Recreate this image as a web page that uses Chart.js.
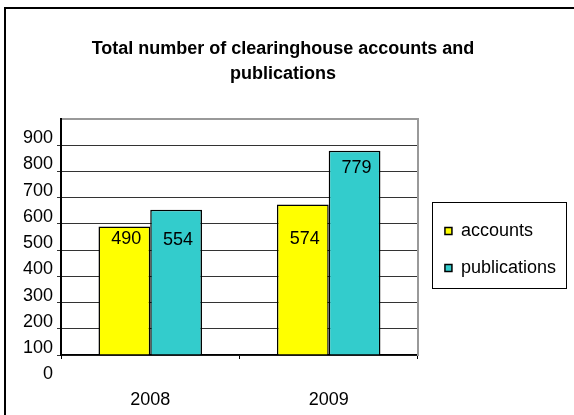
<!DOCTYPE html>
<html lang="en">
<head>
    <meta charset="UTF-8">
    <title>Total number of clearinghouse accounts and publications</title>
    <style>
        html, body { margin: 0; padding: 0; background: #fff; overflow: hidden; }
        .marco { position: absolute; left: 4px; top: 7px; width: 600px; height: 450px; border: 2px solid #000; }
        .caja { position: absolute; left: 0; top: 0; width: 574px; height: 415px; }
    </style>
    <script src="https://cdn.jsdelivr.net/npm/chart.js@4/dist/chart.umd.min.js"></script>
</head>
<body>
    <div class="marco"></div>
    <div class="caja"><canvas id="grafica" width="574" height="415"></canvas></div>
    <script>
        const years = ['2008', '2009'];
        const accounts = [490, 574];
        const publications = [554, 779];
        const seriesNames = ['accounts', 'publications'];
        const titleLines = ['Total number of clearinghouse accounts and', 'publications'];

        // how far below the top of each bar its value label sits (px), per series
        const labelDrop = [[12, 35], [30, 17]];

        Chart.defaults.font.family = "'Liberation Sans', Arial, sans-serif";
        Chart.defaults.font.size = 18;
        Chart.defaults.color = '#000';

        // value labels inside the bars, the extra "0" under the axis, and the legend frame
        const rotulos = {
            id: 'rotulos',
            afterDraw(chart) {
                const ctx = chart.ctx;
                const yScale = chart.scales.y;
                ctx.save();
                ctx.fillStyle = '#000';
                ctx.font = "18px 'Liberation Sans', Arial, sans-serif";
                ctx.textAlign = 'center';
                ctx.textBaseline = 'middle';
                chart.data.datasets.forEach((ds, i) => {
                    chart.getDatasetMeta(i).data.forEach((bar, j) => {
                        ctx.fillText(String(ds.data[j]), bar.x + 2, bar.y + labelDrop[i][j]);
                    });
                });

                ctx.textAlign = 'right';
                ctx.fillText('0', yScale.right - 8, yScale.getPixelForValue(-100) - 7);

                const lg = chart.legend;
                const hb = lg.legendHitBoxes;
                const last = hb[hb.length - 1];
                const left = hb[0].left - 13;
                const top = hb[0].top - 20;
                const right = lg.right;
                const bottom = last.top + last.height + 11;
                ctx.strokeStyle = '#000';
                ctx.lineWidth = 1;
                ctx.strokeRect(Math.round(left) + 0.5, Math.round(top) + 0.5, Math.round(right - left), Math.round(bottom - top));
                ctx.restore();
            }
        };

        const config = {
            type: 'bar',
            data: {
                labels: years,
                datasets: [
                    {
                        label: seriesNames[0],
                        data: accounts,
                        backgroundColor: '#ffff00',
                        borderColor: '#000',
                        borderWidth: 1.5,
                        categoryPercentage: 0.58,
                        barPercentage: 1
                    },
                    {
                        label: seriesNames[1],
                        data: publications,
                        backgroundColor: '#33cccc',
                        borderColor: '#000',
                        borderWidth: 1.5,
                        categoryPercentage: 0.58,
                        barPercentage: 1
                    }
                ]
            },
            options: {
                responsive: false,
                animation: false,
                layout: { padding: { left: 0, top: 0, bottom: 0, right: 8 } },
                scales: {
                    x: {
                        afterFit(s) { s.height = 60; },
                        grid: { drawOnChartArea: false, tickLength: 4, color: '#000' },
                        border: { color: '#000', width: 1.5 },
                        ticks: { padding: 30 }
                    },
                    y: {
                        min: 0,
                        max: 900,
                        afterFit(s) { s.width = 61; },
                        ticks: {
                            stepSize: 100,
                            padding: 4,
                            labelOffset: -7,
                            callback: v => v === 900 ? '' : String(v + 100)
                        },
                        grid: {
                            color: c => c.tick && c.tick.value === 900 ? '#999' : '#333',
                            lineWidth: c => c.tick && c.tick.value === 900 ? 2 : 1,
                            tickColor: c => c.tick && c.tick.value === 900 ? 'rgba(0,0,0,0)' : '#333',
                            tickLength: 4
                        },
                        border: { color: '#000', width: 2 }
                    },
                    y2: {
                        type: 'linear',
                        position: 'right',
                        afterFit(s) { s.width = 8; },
                        grid: { display: false },
                        ticks: { display: false },
                        border: { display: true, color: '#999', width: 2 }
                    }
                },
                plugins: {
                    title: {
                        display: true,
                        text: titleLines,
                        font: { size: 18, weight: 'bold', lineHeight: 1.39 },
                        padding: { top: 37, bottom: 32 },
                        color: '#000'
                    },
                    legend: {
                        position: 'right',
                        fullSize: false,
                        maxWidth: 200,
                        title: { display: true, text: '', font: { size: 20, lineHeight: 1.25 }, padding: 0 },
                        labels: {
                            boxWidth: 7,
                            boxHeight: 7,
                            padding: 19,
                            color: '#000',
                            font: { size: 18 }
                        }
                    },
                    tooltip: { enabled: false }
                }
            },
            plugins: [rotulos]
        };

        new Chart(document.getElementById('grafica'), config);
    </script>
</body>
</html>
